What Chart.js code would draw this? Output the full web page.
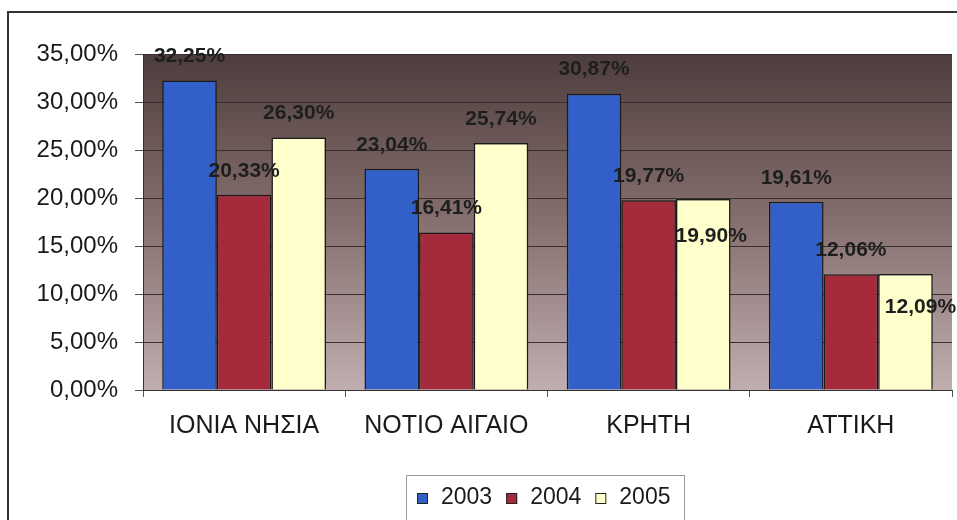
<!DOCTYPE html>
<html>
<head>
<meta charset="utf-8">
<script src="https://cdn.jsdelivr.net/npm/chart.js@4.4.1/dist/chart.umd.min.js"></script>
<style>
  html, body { margin: 0; padding: 0; background: #ffffff; }
  #wrap { width: 957px; height: 520px; position: relative; }
</style>
</head>
<body>
<div id="wrap"><canvas id="c" width="957" height="520"></canvas></div>
<script>
const categories = ['ΙΟΝΙΑ ΝΗΣΙΑ', 'ΝΟΤΙΟ ΑΙΓΑΙΟ', 'ΚΡΗΤΗ', 'ΑΤΤΙΚΗ'];
const seriesNames = ['2003', '2004', '2005'];
const values2003 = [32.25, 23.04, 30.87, 19.61];
const values2004 = [20.33, 16.41, 19.77, 12.06];
const values2005 = [26.30, 25.74, 19.90, 12.09];
const yTickMin = 0, yTickMax = 35, yTickStep = 5;

const colors = ['#3360c8', '#a52a3c', '#ffffcc'];
const FONT = '"Liberation Sans", Arial, sans-serif';
const fmt = v => v.toFixed(2).replace('.', ',') + '%';

// label nudges (dataset-index -> [dx, dy] relative to bar top); default above bar
const labelNudge = { '2-2': [8, 37], '2-3': [15, 33] };

const bgPlugin = {
  id: 'bg',
  beforeDraw(chart) {
    const { ctx, chartArea: a } = chart;
    ctx.save();
    ctx.fillStyle = '#ffffff';
    ctx.fillRect(0, 0, chart.width, chart.height);
    const g = ctx.createLinearGradient(0, a.top, 0, a.bottom);
    g.addColorStop(0, '#4e3d3d');
    g.addColorStop(0.5, '#86706f');
    g.addColorStop(1, '#c0aeb0');
    ctx.fillStyle = g;
    ctx.fillRect(a.left, a.top, a.right - a.left, a.bottom - a.top);
    ctx.restore();
  },
  afterDraw(chart) {
    const { ctx } = chart;
    ctx.save();
    // outer frame
    ctx.strokeStyle = '#333333';
    ctx.lineWidth = 2;
    ctx.beginPath();
    ctx.moveTo(8, chart.height + 2);
    ctx.lineTo(8, 12);
    ctx.lineTo(chart.width + 2, 12);
    ctx.stroke();
    // legend
    const lx = 406, ly = 475, lw = 278, lh = 60;
    ctx.fillStyle = '#ffffff';
    ctx.fillRect(lx, ly, lw, lh);
    ctx.strokeStyle = '#9a9a9a';
    ctx.lineWidth = 1;
    ctx.strokeRect(lx + 0.5, ly + 0.5, lw, lh);
    ctx.font = '23px ' + FONT;
    ctx.textBaseline = 'middle';
    ctx.textAlign = 'left';
    let x = 417;
    const cy = 498;
    seriesNames.forEach((name, i) => {
      ctx.fillStyle = colors[i];
      ctx.fillRect(x, cy - 5, 11, 11);
      ctx.strokeStyle = '#222222';
      ctx.lineWidth = 1;
      ctx.strokeRect(x + 0.5, cy - 4.5, 10, 10);
      ctx.fillStyle = '#1a1a1a';
      ctx.fillText(name, x + 24, cy);
      x += 24 + ctx.measureText(name).width + 14;
    });
    ctx.restore();
  },
  afterDatasetsDraw(chart) {
    const { ctx } = chart;
    ctx.save();
    ctx.font = 'bold 21px ' + FONT;
    ctx.fillStyle = '#1e1e1e';
    ctx.textAlign = 'center';
    ctx.textBaseline = 'middle';
    chart.data.datasets.forEach((ds, di) => {
      const meta = chart.getDatasetMeta(di);
      meta.data.forEach((bar, i) => {
        const n = labelNudge[di + '-' + i] || [0, -24];
        ctx.fillText(fmt(ds.data[i]), bar.x + n[0], bar.y + n[1]);
      });
    });
    ctx.restore();
  }
};

new Chart(document.getElementById('c'), {
  type: 'bar',
  data: {
    labels: categories,
    datasets: [
      { label: seriesNames[0], data: values2003, backgroundColor: colors[0] },
      { label: seriesNames[1], data: values2004, backgroundColor: colors[1] },
      { label: seriesNames[2], data: values2005, backgroundColor: colors[2] }
    ].map(d => Object.assign(d, { borderColor: '#1a1a1a', borderWidth: 1.5, categoryPercentage: 0.81, barPercentage: 1.0 }))
  },
  options: {
    responsive: false,
    animation: false,
    devicePixelRatio: 1,
    layout: { padding: { top: 54, right: 5, left: 0, bottom: 0 } },
    plugins: { legend: { display: false }, tooltip: { enabled: false } },
    scales: {
      x: {
        grid: { display: true, drawOnChartArea: false, drawTicks: true, tickLength: 7, color: '#555555', offset: true },
        border: { display: true, color: '#333333', width: 1 },
        ticks: { font: { family: FONT, size: 25 }, color: '#1a1a1a', padding: 14, maxRotation: 0 },
        afterFit(s) { s.height = 130; }
      },
      y: {
        min: yTickMin, max: yTickMax,
        ticks: { stepSize: yTickStep, callback: v => fmt(v), font: { family: FONT, size: 24 }, color: '#1a1a1a', padding: 17 },
        grid: { color: '#3a2e2e', tickLength: 8, tickColor: '#555555' },
        border: { display: true, color: '#333333', width: 1 },
        afterFit(s) { s.width = 143; }
      }
    }
  },
  plugins: [bgPlugin]
});
</script>
</body>
</html>
